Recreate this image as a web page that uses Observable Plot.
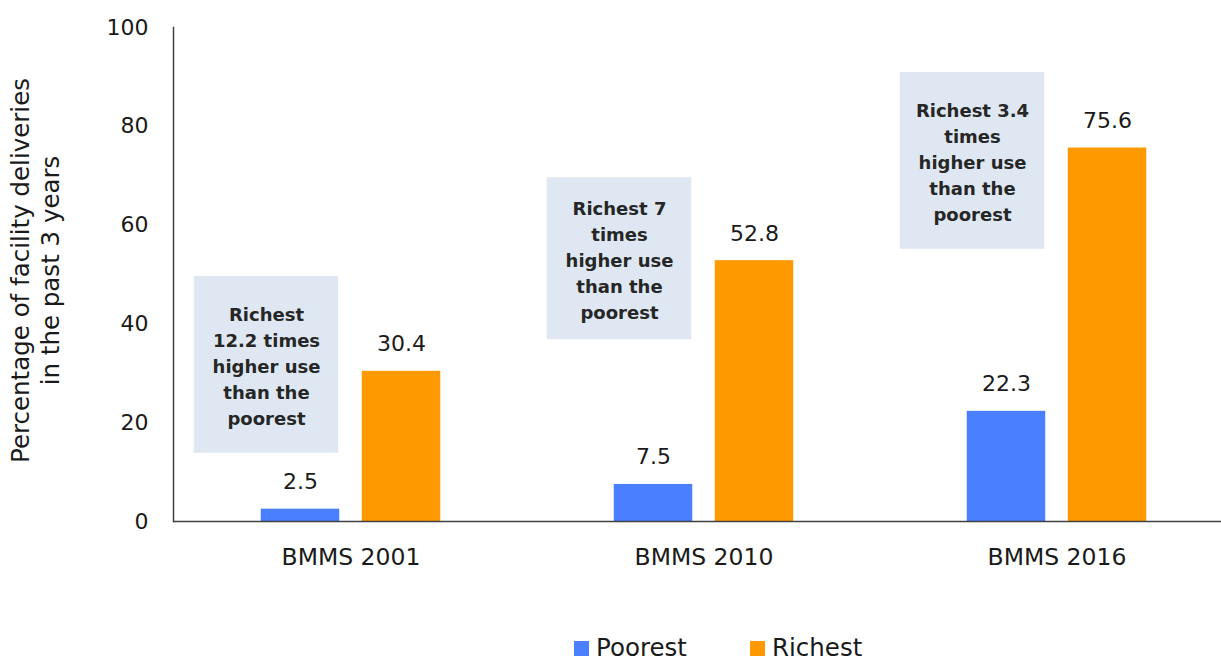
<!DOCTYPE html>
<html>
<head>
<meta charset="utf-8">
<script src="https://cdn.jsdelivr.net/npm/d3@7"></script>
<script src="https://cdn.jsdelivr.net/npm/@observablehq/plot@0.6"></script>
<style>
  html, body { margin: 0; padding: 0; background: #fff; overflow: hidden; }
  body { font-family: "DejaVu Sans", sans-serif; width: 1221px; height: 662px; }
  #legend { position: relative; height: 62px; width: 1221px; }
  .item { position: absolute; top: 36px; height: 24px; line-height: 24px; display: flex; align-items: center; font-size: 24.5px; color: #1a1a1a; }
  .sw { width: 15px; height: 15px; margin-right: 7px; }
</style>
</head>
<body>
<div id="chart"></div>
<div id="legend"></div>
<script>
const categories = ["BMMS 2001", "BMMS 2010", "BMMS 2016"];
const poorest = [2.5, 7.5, 22.3];
const richest = [30.4, 52.8, 75.6];
const seriesNames = ["Poorest", "Richest"];
const seriesColors = ["#4a7fff", "#ff9900"];
const notes = [
  "Richest\n12.2 times\nhigher use\nthan the\npoorest",
  "Richest 7\ntimes\nhigher use\nthan the\npoorest",
  "Richest 3.4\ntimes\nhigher use\nthan the\npoorest"
];
const noteLow = [13.8, 36.8, 55.1];
const noteHigh = [49.6, 69.6, 90.9];
const yTicks = [0, 20, 40, 60, 80, 100];
const yTitle = "Percentage of facility deliveries\nin the past 3 years";

const poorRows = categories.map((c, i) => ({cat: c, series: seriesNames[0], value: poorest[i]}));
const richRows = categories.map((c, i) => ({cat: c, series: seriesNames[1], value: richest[i]}));
const noteRows = categories.map((c, i) => ({cat: c, text: notes[i], y1: noteLow[i], y2: noteHigh[i]}));

const chart = Plot.plot({
  width: 1221,
  height: 600,
  marginTop: 27,
  marginBottom: 79,
  marginLeft: 173,
  marginRight: 0,
  style: {fontFamily: "DejaVu Sans, sans-serif", color: "#1a1a1a", background: "#fff"},
  x: {domain: categories, range: [173.25, 1233.75], padding: 0},
  y: {domain: [0, 100]},
  color: {domain: seriesNames, range: seriesColors},
  marks: [
    Plot.barY(noteRows, {x: "cat", y1: "y1", y2: "y2", fill: "#dfe8f2", insetLeft: 19.75, insetRight: 188.75}),
    Plot.text(noteRows, {x: "cat", y: d => (d.y1 + d.y2) / 2, text: "text", dx: -84.5, fontSize: 18, fontWeight: "bold", lineHeight: 1.44, fill: "#262626"}),
    Plot.barY(poorRows, {x: "cat", y: "value", fill: "series", insetLeft: 86.75, insetRight: 187.75}),
    Plot.barY(richRows, {x: "cat", y: "value", fill: "series", insetLeft: 187.75, insetRight: 86.75}),
    Plot.text(poorRows, {x: "cat", y: "value", text: d => d.value.toFixed(1), dx: -50.5, dy: -27, fontSize: 22, fill: "#1a1a1a"}),
    Plot.text(richRows, {x: "cat", y: "value", text: d => d.value.toFixed(1), dx: 50.5, dy: -27, fontSize: 22, fill: "#1a1a1a"}),
    Plot.axisY({ticks: yTicks, tickSize: 0, tickPadding: 25, fontSize: 22, label: null}),
    Plot.axisX({tickSize: 0, tickPadding: 27, fontSize: 23.5, label: null}),
    Plot.ruleY([0], {stroke: "#404040", strokeWidth: 1.5}),
    Plot.frame({anchor: "left", stroke: "#404040", strokeWidth: 1.5}),
    Plot.text([yTitle], {frameAnchor: "left", rotate: -90, dx: -139, dy: -4, fontSize: 24.5, lineHeight: 1.22, textAnchor: "middle", lineAnchor: "middle", fill: "#1a1a1a"})
  ]
});
document.getElementById("chart").appendChild(chart);

const legend = document.getElementById("legend");
const legendLeft = [574, 750];
seriesNames.forEach((name, i) => {
  const item = document.createElement("div");
  item.className = "item";
  item.style.left = legendLeft[i] + "px";
  const sw = document.createElement("span");
  sw.className = "sw";
  sw.style.background = seriesColors[i];
  const label = document.createElement("span");
  label.textContent = name;
  item.appendChild(sw);
  item.appendChild(label);
  legend.appendChild(item);
});
</script>
</body>
</html>
